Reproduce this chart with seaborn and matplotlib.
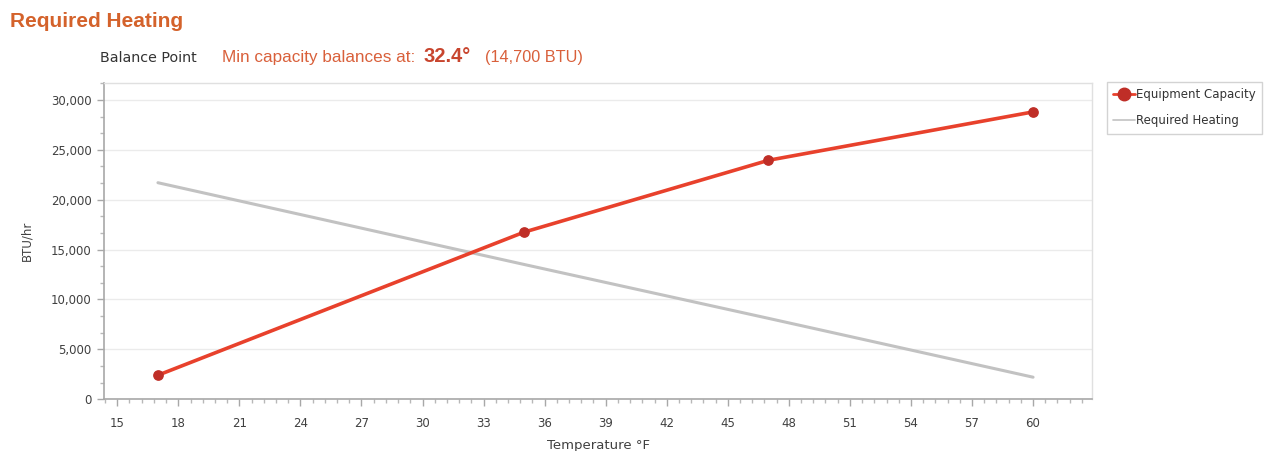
import matplotlib
matplotlib.use("Agg")
import matplotlib.pyplot as plt
import seaborn as sns
import pandas as pd
from matplotlib.ticker import MultipleLocator, FuncFormatter
from matplotlib.lines import Line2D

# chart data
temps_equipment = [17, 35, 47, 60]
equipment_capacity = [2400, 16750, 23950, 28800]
temps_required = [17, 35, 47, 60]
required_heating = [21700, 13500, 8100, 2200]

balance_temp = "32.4°"
balance_btu = "(14,700 BTU)"

ORANGE = "#D4622B"
RED_LINE = "#E8412C"
RED_MARK = "#BF2E27"
GRAY_LINE = "#C2C2C2"

sns.set_style("white")
plt.rcParams["font.family"] = ["Liberation Sans", "DejaVu Sans"]
TICK_FONT = ["DejaVu Sans"]

df_eq = pd.DataFrame({"temp": temps_equipment, "btu": equipment_capacity})
df_req = pd.DataFrame({"temp": temps_required, "btu": required_heating})

fig = plt.figure(figsize=(12.7, 4.51), dpi=100)
ax = fig.add_axes([0.0819, 0.115, 0.778, 0.701])

sns.lineplot(data=df_req, x="temp", y="btu", color=GRAY_LINE, linewidth=2.2, ax=ax)
sns.lineplot(data=df_eq, x="temp", y="btu", color=RED_LINE, linewidth=2.6, ax=ax)
ax.scatter(temps_equipment, equipment_capacity, s=45, color=RED_MARK, zorder=5)

ax.set_xlim(14.35, 62.9)
ax.set_ylim(0, 31700)
ax.xaxis.set_major_locator(MultipleLocator(3))
ax.xaxis.set_minor_locator(MultipleLocator(0.6))
ax.yaxis.set_major_locator(MultipleLocator(5000))
ax.yaxis.set_minor_locator(MultipleLocator(5000 / 3))
ax.yaxis.set_major_formatter(FuncFormatter(lambda v, p: f"{int(v):,}"))

ax.grid(axis="y", which="major", color="#EBEBEB", linewidth=1)
ax.grid(axis="x", visible=False)

for side in ["left", "bottom"]:
    ax.spines[side].set_color("#A8A8A8")
    ax.spines[side].set_linewidth(1.2)
for side in ["top", "right"]:
    ax.spines[side].set_color("#E0E0E0")
    ax.spines[side].set_linewidth(1)

ax.tick_params(axis="both", which="major", direction="out", length=5, width=1,
               color="#A8A8A8", labelsize=8.5, labelcolor="#404040")
ax.tick_params(axis="x", which="major", pad=8)
ax.tick_params(axis="y", which="major", pad=4)
ax.tick_params(axis="both", which="minor", direction="out", length=3, width=1,
               color="#B8B8B8")
ax.tick_params(axis="x", which="both", bottom=True)
ax.tick_params(axis="y", which="both", left=True)
for lab in ax.get_xticklabels() + ax.get_yticklabels():
    lab.set_family(TICK_FONT)

ax.set_xlabel("Temperature °F", fontsize=9.5, color="#404040", family=TICK_FONT)
ax.set_ylabel("BTU/hr", fontsize=8.5, color="#404040", family=TICK_FONT)
ax.xaxis.set_label_coords(0.5, -0.125)
ax.yaxis.set_label_coords(-0.071, 0.5)

handles = [
    Line2D([0], [0], color=RED_LINE, linewidth=2, marker="o", markersize=9,
           markerfacecolor=RED_MARK, markeredgecolor=RED_MARK),
    Line2D([0], [0], color=GRAY_LINE, linewidth=1.2),
]
leg = fig.legend(handles, ["Equipment Capacity", "Required Heating"],
                 loc="upper left", bbox_to_anchor=(1107 / 1270, 1 - 82 / 451),
                 frameon=True, fancybox=False, handlelength=1.8,
                 handletextpad=0.1, borderpad=0.55, labelspacing=1.1,
                 borderaxespad=0, prop={"family": TICK_FONT, "size": 8.5})
leg.get_frame().set_edgecolor("#C8C8C8")
leg.get_frame().set_linewidth(1)
for t in leg.get_texts():
    t.set_color("#333333")

# header texts
fig.text(10 / 1270, 1 - 27 / 451, "Required Heating", fontsize=15,
         fontweight="bold", color=ORANGE, va="baseline")
fig.text(100 / 1270, 1 - 62 / 451, "Balance Point", fontsize=10.3,
         color="#333333", va="baseline", family=TICK_FONT)
fig.text(222 / 1270, 1 - 62 / 451, "Min capacity balances at:", fontsize=12.3,
         color="#D9603B", va="baseline")
fig.text(424 / 1270, 1 - 62 / 451, balance_temp, fontsize=14.5,
         fontweight="semibold", color="#C8452E", va="baseline")
fig.text(485 / 1270, 1 - 62 / 451, balance_btu, fontsize=11.7,
         color="#D9603B", va="baseline")

fig.savefig("out.png", dpi=100)
